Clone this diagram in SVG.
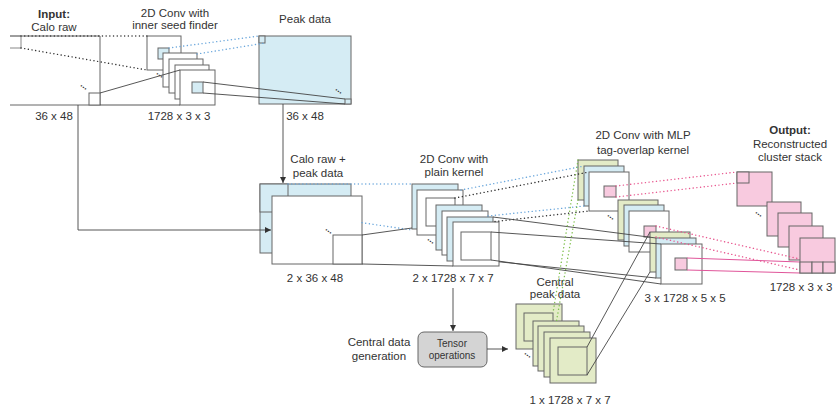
<svg xmlns="http://www.w3.org/2000/svg" width="840" height="409" viewBox="0 0 840 409">
  <defs>
    <marker id="arr" markerWidth="8" markerHeight="8" refX="6" refY="3" orient="auto" markerUnits="userSpaceOnUse">
      <path d="M0,0 L6,3 L0,6 Z" fill="#333"/>
    </marker>
    <style>
      text { font-family: "Liberation Sans", Arial, sans-serif; font-size: 11.5px; fill: #333; text-anchor: middle; }
      .bold { font-weight: bold; }
      .small { font-size: 10px; }
      .dots { font-size: 9px; font-weight: bold; }
      rect { stroke: #666; stroke-width: 1; }
      .w { fill: #fff; }
      .b { fill: #d5ecf4; }
      .g { fill: #e3ebc7; }
      .p { fill: #f8cadf; }
      .ln { stroke: #444; stroke-width: 0.9; fill: none; }
      .dk, .db, .dg, .dp { stroke-width: 1.4; stroke-dasharray: 0.1 3.6; stroke-linecap: round; fill: none; }
      .dk { stroke: #333; }
      .db { stroke: #6ba7dc; }
      .dg { stroke: #7fbf4d; }
      .dp { stroke: #e8578f; }
      .sp { stroke: #e0559a; stroke-width: 1; fill: none; }
    </style>
  </defs>

  <!-- calorimeter input -->
  <g id="input">
    <path d="M10,36 H100 V105 H10" fill="#fff" stroke="#666"/>
    <path d="M10,36 H21 V48 H10" fill="none" stroke="#888"/>
    <rect x="89" y="93" width="11" height="12" class="w"/>
    <text class="dots" transform="translate(83,88) rotate(35)">...</text>
    <text class="bold" x="54" y="18">Input:</text>
    <text x="54" y="31">Calo raw</text>
    <text x="54" y="120">36 x 48</text>
  </g>

  <!-- seed finder convolution stack -->
  <g id="seed-conv">
    <rect x="147" y="36" width="34" height="34" class="w"/>
    <rect x="158" y="48" width="11" height="11" class="b"/>
    <rect x="163" y="53" width="34" height="34" class="w"/>
    <rect x="169" y="59" width="34" height="34" class="w"/>
    <rect x="175" y="65" width="34" height="34" class="w"/>
    <rect x="180" y="70" width="35" height="35" class="w"/>
    <rect x="192" y="82" width="11" height="11" class="b"/>
    <text class="dots" transform="translate(159,76) rotate(35)">...</text>
    <text x="175" y="17">2D Conv with</text>
    <text x="175" y="29">inner seed finder</text>
    <text x="179" y="120">1728 x 3 x 3</text>
  </g>

  <!-- peak map -->
  <g id="peak-data">
    <rect x="259" y="36" width="92" height="68" class="b"/>
    <rect x="259" y="36" width="6" height="7" class="b"/>
    <rect x="345" y="99" width="6" height="5" class="b"/>
    <text class="dots" transform="translate(338,92) rotate(35)">...</text>
    <text x="305" y="23">Peak data</text>
    <text x="305" y="120">36 x 48</text>
  </g>

  <!-- stacked calo + peak input -->
  <g id="calo-peak">
    <rect x="260" y="184" width="91" height="69" class="b"/>
    <rect x="260" y="184" width="28" height="28" class="b"/>
    <rect x="272" y="196" width="90" height="68" class="w"/>
    <rect x="333" y="235" width="29" height="29" fill="#fff" stroke="#888" stroke-width="1.5"/>
    <text class="dots" transform="translate(328,232) rotate(35)">...</text>
    <text x="318" y="163">Calo raw +</text>
    <text x="318" y="177">peak data</text>
    <text x="315" y="282">2 x 36 x 48</text>
  </g>

  <!-- plain kernel convolution -->
  <g id="plain-conv">
    <rect x="412" y="184" width="46" height="45" class="b"/>
    <rect x="417" y="190" width="46" height="45" class="w"/>
    <rect x="426" y="198" width="29" height="28" class="w"/>
    <rect x="436" y="205" width="46" height="45" class="b"/>
    <rect x="442" y="211" width="46" height="44" class="w"/>
    <rect x="447" y="217" width="46" height="44" class="b"/>
    <rect x="453" y="222" width="46" height="44" class="w"/>
    <rect x="461" y="232" width="30" height="28" class="w"/>
    <text class="dots" transform="translate(430,242) rotate(35)">...</text>
    <text x="454" y="163">2D Conv with</text>
    <text x="454" y="176">plain kernel</text>
    <text x="453" y="282">2 x 1728 x 7 x 7</text>
  </g>

  <!-- MLP tag-overlap kernel convolution -->
  <g id="mlp-conv">
    <rect x="578" y="160" width="40" height="40" class="g"/>
    <rect x="584" y="166" width="40" height="40" class="b"/>
    <rect x="589" y="172" width="40" height="39" class="w"/>
    <rect x="604" y="186" width="12" height="11" class="p"/>
    <rect x="618" y="200" width="40" height="40" class="g"/>
    <rect x="624" y="205" width="40" height="41" class="b"/>
    <rect x="629" y="211" width="40" height="41" class="w"/>
    <rect x="644" y="226" width="12" height="11" class="p"/>
    <rect x="650" y="232" width="40" height="40" class="g"/>
    <rect x="656" y="238" width="40" height="40" class="b"/>
    <rect x="661" y="244" width="41" height="40" class="w"/>
    <rect x="675" y="258" width="12" height="12" class="p"/>
    <text class="dots" transform="translate(610,218) rotate(35)">...</text>
    <text x="643" y="139">2D Conv with MLP</text>
    <text x="643" y="154">tag-overlap kernel</text>
    <text x="685" y="302">3 x 1728 x 5 x 5</text>
  </g>

  <!-- reconstructed output clusters -->
  <g id="output">
    <rect x="737" y="172" width="35" height="34" class="p"/>
    <rect x="737" y="172" width="12" height="11" class="p"/>
    <rect x="767" y="202" width="34" height="34" class="p"/>
    <rect x="778" y="213" width="34" height="34" class="p"/>
    <rect x="789" y="226" width="34" height="34" class="p"/>
    <text class="dots" transform="translate(758,215) rotate(35)">...</text>
    <text class="bold" x="790" y="134">Output:</text>
    <text x="790" y="148">Reconstructed</text>
    <text x="790" y="161">cluster stack</text>
    <text x="801" y="291">1728 x 3 x 3</text>
  </g>

  <!-- central peak data stack -->
  <g id="central-peak">
    <rect x="516" y="304" width="46" height="45" class="g"/>
    <rect x="524" y="313" width="29" height="28" class="g"/>
    <rect x="533" y="321" width="46" height="45" class="g"/>
    <rect x="538" y="326" width="46" height="45" class="g"/>
    <rect x="544" y="332" width="46" height="45" class="g"/>
    <rect x="550" y="338" width="46" height="45" class="g"/>
    <rect x="558" y="347" width="29" height="28" class="g"/>
    <text class="dots" transform="translate(527,356) rotate(35)">...</text>
    <text x="555" y="286">Central</text>
    <text x="555" y="298">peak data</text>
    <text x="570" y="404">1 x 1728 x 7 x 7</text>
  </g>

  <!-- tensor operations block -->
  <g id="tensor-ops">
    <rect x="418" y="332" width="69" height="35" rx="6" fill="#d4d4d4" stroke="#666"/>
    <text class="small" x="452" y="347">Tensor</text>
    <text class="small" x="452" y="359">operations</text>
    <text x="379" y="346">Central data</text>
    <text x="379" y="360">generation</text>
  </g>

  <!-- connectors -->
  <g id="connectors">
    <!-- input window to seed convolution -->
    <line class="dk" x1="21" y1="36" x2="147" y2="36"/>
    <line class="dk" x1="21" y1="48" x2="147" y2="70"/>
    <line class="ln" x1="100" y1="93" x2="180" y2="70"/>
    <line class="ln" x1="100" y1="105" x2="180" y2="105"/>
    <!-- seed convolution to peak map -->
    <line class="db" x1="169" y1="48" x2="259" y2="36"/>
    <line class="db" x1="197" y1="54" x2="265" y2="43"/>
    <line class="ln" x1="203" y1="82" x2="345" y2="99"/>
    <line class="ln" x1="203" y1="93" x2="345" y2="104"/>
    <!-- data flow arrows -->
    <polyline class="ln" points="78,105 78,230 271,230" marker-end="url(#arr)"/>
    <line class="ln" x1="283" y1="104" x2="283" y2="183" marker-end="url(#arr)"/>
    <line class="ln" x1="453" y1="288" x2="453" y2="331" marker-end="url(#arr)"/>
    <line class="ln" x1="487" y1="349" x2="508" y2="349" marker-end="url(#arr)"/>
    <!-- calo + peak to plain kernel -->
    <line class="db" x1="288" y1="184" x2="412" y2="184"/>
    <line class="db" x1="362" y1="222.7" x2="412" y2="230"/>
    <line class="ln" x1="362" y1="235" x2="412" y2="228"/>
    <line class="ln" x1="362" y1="264" x2="453" y2="266"/>
    <!-- plain kernel to MLP kernel -->
    <line class="db" x1="461" y1="190" x2="584" y2="166"/>
    <line class="db" x1="488" y1="216" x2="584" y2="206"/>
    <line class="dk" x1="455" y1="198" x2="589" y2="172"/>
    <line class="dk" x1="495" y1="221.5" x2="589" y2="211"/>
    <line class="ln" x1="493" y1="217" x2="656" y2="238"/>
    <line class="ln" x1="491" y1="232" x2="661" y2="244"/>
    <line class="ln" x1="499" y1="261.8" x2="656" y2="278"/>
    <line class="ln" x1="491" y1="260" x2="661" y2="284"/>
    <!-- central peak data to MLP kernel -->
    <line class="dg" x1="578" y1="160" x2="553" y2="313"/>
    <line class="dg" x1="578" y1="200" x2="556.5" y2="321"/>
    <line class="ln" x1="587" y1="347" x2="650" y2="232"/>
    <line class="ln" x1="587" y1="375" x2="650" y2="272"/>
    <!-- MLP kernel to output -->
    <line class="dp" x1="616" y1="186" x2="737" y2="172"/>
    <line class="dp" x1="616" y1="197" x2="737" y2="183"/>
    <line class="dp" x1="656" y1="226" x2="800" y2="259"/>
    <line class="dp" x1="656" y1="237" x2="800" y2="270"/>
    <line class="sp" x1="687" y1="258" x2="800" y2="262"/>
    <line class="sp" x1="687" y1="270" x2="800" y2="273"/>
  </g>

  <!-- front output plane with kernel cells -->
  <g id="output-front">
    <rect x="800" y="238" width="35" height="35" class="p"/>
    <rect x="800" y="262" width="12" height="11" class="p"/>
    <rect x="812" y="262" width="11" height="11" class="p"/>
    <rect x="823" y="262" width="12" height="11" class="p"/>
  </g>
</svg>
